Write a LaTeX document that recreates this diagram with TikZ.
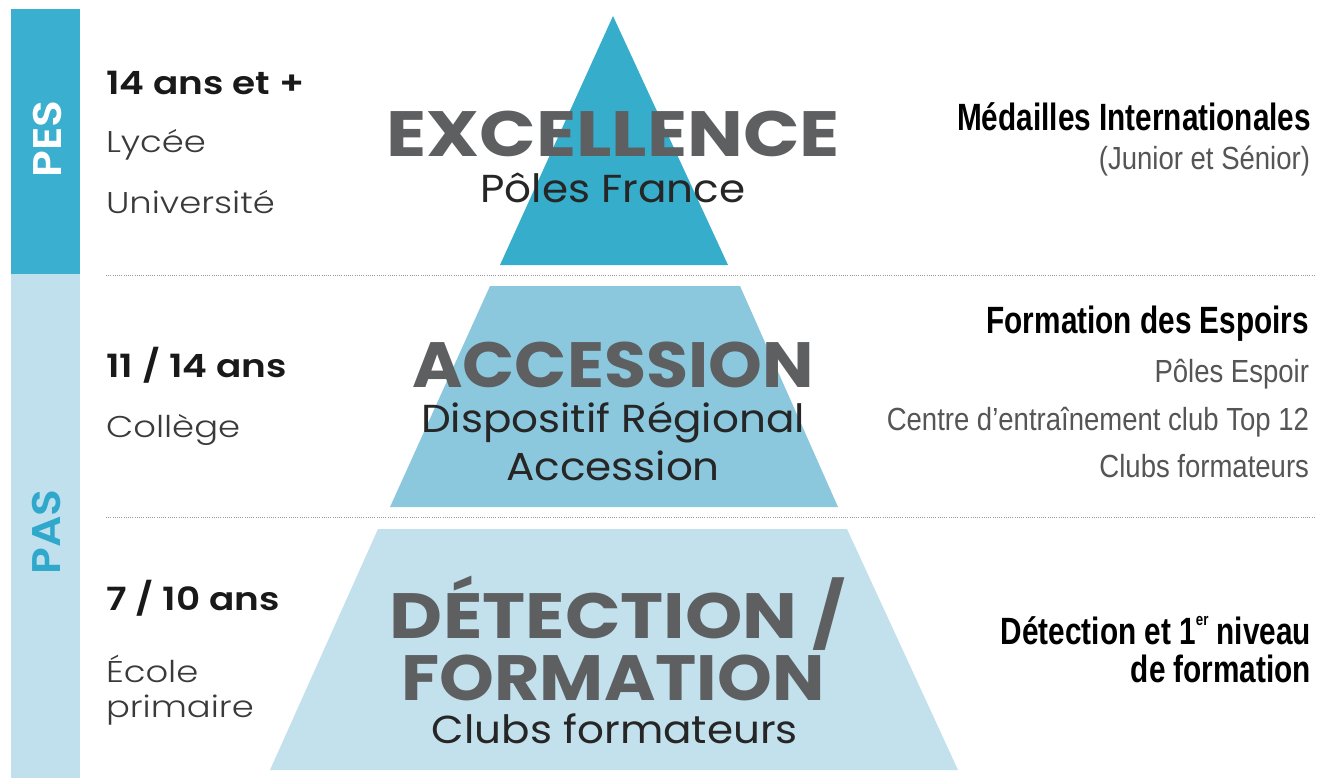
\documentclass[tikz,border=0pt]{standalone}
\usepackage{fontspec}
\setmainfont{Poppins}
\newfontfamily\headfont{Poppins}[UprightFont=*-Bold]
\IfFontExistsTF{Poppins SemiBold}{%
  \newfontfamily\agefont{Poppins SemiBold}[FakeStretch=1.17]
  \newfontfamily\barfont{Poppins SemiBold}[FakeStretch=1.1]
}{%
  \newfontfamily\agefont{Poppins}[FakeStretch=1.17,UprightFont=*-Bold]
  \newfontfamily\barfont{Poppins}[FakeStretch=1.08,UprightFont=*-Bold]
}
\newfontfamily\subfont{Poppins}[FakeStretch=1.08]
\IfFontExistsTF{Poppins Light}{\newfontfamily\lightfont{Poppins Light}[FakeStretch=1.18]}{\newfontfamily\lightfont{Poppins}[FakeStretch=1.18]}
\newfontfamily\narrow{Liberation Sans}[FakeStretch=0.86]
\newfontfamily\narrowbold{Liberation Sans Bold}[FakeStretch=0.783]
\newcommand\hsc[2]{\scalebox{#1}[1]{#2}}
\definecolor{pescol}{HTML}{3AAFCF}
\definecolor{pascol}{HTML}{BFE0EC}
\definecolor{pastext}{HTML}{2FA8CC}
\definecolor{tri}{HTML}{36ADCB}
\definecolor{midc}{HTML}{8CC8DD}
\definecolor{botc}{HTML}{C2E1EC}
\definecolor{headgray}{HTML}{5E5F61}
\definecolor{bodygray}{HTML}{3A3A3A}
\definecolor{rightgray}{HTML}{555555}
\definecolor{dotgray}{HTML}{9A9A9A}
\tikzset{
  agebold/.style={anchor=base west, text=black!90, font=\agefont\fontsize{32}{32}\selectfont},
  agelight/.style={anchor=base west, text=bodygray, font=\lightfont\fontsize{30}{30}\selectfont},
  headline/.style={anchor=base, text=headgray, font=\headfont\fontsize{64}{64}\selectfont},
  subline/.style={anchor=base, text=black!85, font=\subfont\fontsize{39}{39}\selectfont},
  rbold/.style={anchor=base east, text=black, font=\narrowbold\fontsize{38}{38}\selectfont},
  rlight/.style={anchor=base east, text=rightgray, font=\narrow\fontsize{32}{32}\selectfont},
  dotline/.style={draw=dotgray, line width=1pt, dash pattern=on 1pt off 1.2pt},
  barlabel/.style={rotate=90, font=\barfont\fontsize{40}{40}\selectfont}
}
\begin{document}
\begin{tikzpicture}[x=1pt,y=-1pt,inner sep=0pt,outer sep=0pt]
\useasboundingbox (0,0) rectangle (1324,778);
\fill[white] (0,0) rectangle (1324,778);
% side bars
\fill[pescol] (11,9) rectangle (80,274);
\fill[pascol] (11,274) rectangle (80,778);
\node[barlabel, text=white] (pes) at (47,139) {PES};
\node[barlabel, text=pastext] (pas) at (46,532) {PAS};
% dotted separators
\coordinate (d1a) at (106,275); \coordinate (d1b) at (1316,275);
\coordinate (d2a) at (106,517); \coordinate (d2b) at (1316,517);
\draw[dotline] (d1a) -- (d1b);
\draw[dotline] (d2a) -- (d2b);
% pyramid
\fill[tri] (613,16) -- (728,265) -- (500,265) -- cycle;
\fill[midc] (490,286) -- (740,286) -- (838,507) -- (390,507) -- cycle;
\fill[botc] (378,529) -- (847,529) -- (958,770) -- (270,770) -- cycle;
% left column
\node[agebold] (a1) at (106,95) {14 ans et +};
\node[agelight] (a1b) at (106,153) {Lycée};
\node[agelight] (a1c) at (106,213) {Université};
\node[agebold] (a2) at (106,377) {11 / 14 ans};
\node[agelight] (a2b) at (106,437) {Collège};
\node[agebold] (a3) at (106,610) {7 / 10 ans};
\node[agelight] (a3b) at (106,682) {École};
\node[agelight] (a3c) at (106,717) {primaire};
% center
\node[headline] (h1) at (613,157) {\hsc{1.16}{EXCELLENCE}};
\node[subline] (s1) at (613,203) {Pôles France};
\node[headline] (h2) at (613,387) {\hsc{1.07}{ACCESSION}};
\node[subline] (s2) at (613,432) {Dispositif Régional};
\node[subline] (s2b) at (613,480) {Accession};
\node[headline] (h3) at (618,638) {\hsc{1.14}{DÉTECTION /}};
\node[headline] (h3b) at (613,700) {\hsc{1.09}{FORMATION}};
\node[subline] (s3) at (615,743) {Clubs formateurs};
% right column
\node[rbold] (r1) at (1311,131) {Médailles Internationales};
\node[rlight] (r1b) at (1310,170) {(Junior et Sénior)};
\node[rbold] (r2) at (1309,333) {Formation des Espoirs};
\node[rlight] (r2b) at (1309,382) {Pôles Espoir};
\node[rlight] (r2c) at (1309,430) {Centre d’entraînement club Top 12};
\node[rlight] (r2d) at (1309,477) {Clubs formateurs};
\node[rbold] (r3) at (1311,644) {Détection et 1\raisebox{0.5em}{\fontsize{17}{17}\selectfont er} niveau};
\node[rbold] (r3b) at (1311,682) {de formation};
\end{tikzpicture}
\end{document}
